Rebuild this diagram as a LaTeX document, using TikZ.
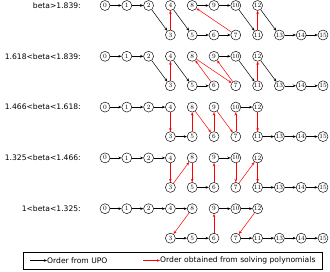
\documentclass[tikz,border=0pt]{standalone}
\usepackage{fontspec}
\setsansfont{DejaVu Sans}
\usetikzlibrary{arrows.meta}
\begin{document}
\begin{tikzpicture}[x=1pt,y=-1pt,
  st/.style={circle,draw,line width=0.45pt,minimum size=10pt,inner sep=0pt,font=\fontsize{6.5}{6.5}\selectfont},
  blk/.style={-{Stealth[length=3.2pt,width=2.6pt]},line width=0.5pt,black},
  rd/.style={-{Stealth[length=3.2pt,width=2.6pt]},line width=0.5pt,red},
  lab/.style={anchor=east,inner sep=0pt,font=\sffamily\fontsize{7.6}{8}\selectfont},
  legtext/.style={anchor=west,inner sep=0pt,font=\sffamily\fontsize{7.6}{8}\selectfont}]
\useasboundingbox (0,0) rectangle (330,272);
% nodes of the five rows
\foreach \r/\y in {1/5.5,2/56.3,3/107.1,4/157.9,5/208.7}{
  \foreach \n [count=\i from 0] in {0,1,2,4,8,9,10,12}
    \node[st] (r\r-\n) at ({105+21.8*\i},\y) {\n};
  \foreach \n [count=\i from 3] in {3,5,6,7,11,13,14,15}
    \node[st] (r\r-\n) at ({105+21.8*\i},{\y+29.5}) {\n};
}
% labels
\node[lab] (l1) at (81,5.5) {beta>1.839:};
\node[lab] (l2) at (81,56.3) {1.618<beta<1.839:};
\node[lab] (l3) at (81,107.1) {1.466<beta<1.618:};
\node[lab] (l4) at (81,157.9) {1.325<beta<1.466:};
\node[lab] (l5) at (81,208.7) {1<beta<1.325:};
% row 1
\foreach \a/\b in {0/1,1/2,2/3,4/5,5/6,6/7,8/9,9/10,10/11,12/13,13/14,14/15}
  \draw[blk] (r1-\a) -- (r1-\b);
\foreach \a/\b in {3/4,7/8,11/12}
  \draw[rd] (r1-\a) -- (r1-\b);
% row 2
\foreach \a/\b in {0/1,1/2,2/3,4/5,5/6,9/10,10/11,12/13,13/14,14/15}
  \draw[blk] (r2-\a) -- (r2-\b);
\foreach \a/\b in {3/4,6/8,8/7,7/9,11/12}
  \draw[rd] (r2-\a) -- (r2-\b);
% row 3
\foreach \a/\b in {0/1,1/2,2/4,3/5,10/12,11/13,13/14,14/15}
  \draw[blk] (r3-\a) -- (r3-\b);
\foreach \a/\b in {4/3,5/8,8/6,6/9,9/7,7/10,12/11}
  \draw[rd] (r3-\a) -- (r3-\b);
% row 4
\foreach \a/\b in {0/1,1/2,2/4,5/6,9/10,11/13,13/14,14/15}
  \draw[blk] (r4-\a) -- (r4-\b);
\foreach \a/\b in {4/3,3/8,8/5,6/9,10/7,7/12,12/11}
  \draw[rd] (r4-\a) -- (r4-\b);
% row 5
\foreach \a/\b in {0/1,1/2,2/4,4/8,3/5,5/6,9/10,10/12,7/11,11/13,13/14,14/15}
  \draw[blk] (r5-\a) -- (r5-\b);
\foreach \a/\b in {8/3,6/9,12/7}
  \draw[rd] (r5-\a) -- (r5-\b);
% legend
\node[draw,line width=0.5pt,minimum width=299pt,minimum height=17pt,inner sep=0pt] (legend) at (172.5,260.5) {};
\coordinate (lb) at (30,260.5);
\node[legtext] (lt1) at (47,260.5) {Order from UPO};
\draw[blk] (lb) -- (lt1.west);
\coordinate (lr) at (143,260.5);
\node[legtext] (lt2) at (160,260.5) {Order obtained from solving polynomials};
\draw[rd] (lr) -- (lt2.west);
\end{tikzpicture}
\end{document}
